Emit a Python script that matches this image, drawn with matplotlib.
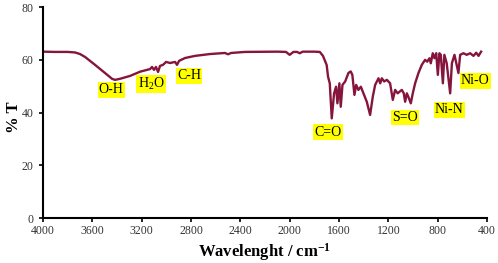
import matplotlib
matplotlib.use("Agg")
import matplotlib.pyplot as plt

plt.rcParams['font.family'] = ['Liberation Serif', 'DejaVu Serif']
plt.rcParams['mathtext.fontset'] = 'custom'
plt.rcParams['mathtext.rm'] = 'Liberation Serif'
plt.rcParams['mathtext.bf'] = 'Liberation Serif:bold'
plt.rcParams['mathtext.default'] = 'regular'

wavenumber = [4000, 3900, 3800, 3740, 3700, 3659, 3578, 3497, 3440, 3416, 3376, 3294, 3213,
              3132, 3116, 3100, 3084, 3067, 3051, 3027, 3002, 2970, 2929, 2913, 2897, 2848,
              2767, 2646, 2524, 2500, 2475, 2362, 2100, 2030, 2000, 1970, 1940, 1918, 1895,
              1800, 1756, 1730, 1700, 1689, 1675, 1659, 1640, 1624, 1613, 1597, 1586, 1572,
              1550, 1524, 1505, 1492, 1475, 1461, 1443, 1423, 1402, 1375, 1348, 1326, 1307,
              1280, 1266, 1253, 1234, 1212, 1186, 1164, 1145, 1125, 1091, 1075, 1064, 1050,
              1034, 1018, 1002, 983, 956, 929, 902, 885, 867, 856, 840, 826, 812, 799, 786,
              775, 758, 746, 727, 699, 685, 664, 632, 618, 591, 565, 537, 510, 488, 469, 448]
transmittance = [63.1, 63.0, 63.0, 62.8, 62.2, 61.1, 58.1, 55.0, 52.8, 52.4, 52.8, 53.9, 55.5,
                 56.5, 57.3, 56.2, 57.3, 55.4, 57.7, 58.1, 59.2, 58.8, 59.2, 58.1, 59.6, 60.7,
                 61.5, 62.2, 62.6, 62.1, 62.6, 63.0, 63.1, 63.0, 61.9, 63.0, 63.0, 62.5, 63.1,
                 63.1, 63.0, 61.5, 58.0, 53.6, 51.1, 37.8, 47.3, 49.8, 43.5, 51.1, 42.2, 50.5,
                 51.8, 55.0, 55.6, 54.3, 46.7, 50.5, 48.6, 49.8, 47.3, 44.1, 39.1, 46.1, 50.5,
                 53.0, 51.1, 53.0, 51.8, 52.4, 51.1, 44.8, 48.6, 47.3, 48.6, 47.3, 44.1, 47.3,
                 45.5, 43.5, 47.3, 51.1, 55.0, 58.1, 60.0, 59.3, 60.6, 58.7, 62.5, 60.6, 62.5,
                 54.3, 62.5, 61.9, 51.1, 61.9, 58.7, 47.3, 58.7, 61.9, 55.0, 61.9, 62.5, 61.9,
                 62.5, 61.5, 62.7, 61.5, 63.1]

labels = ['O-H', 'H$_2$O', 'C-H', 'C=O', 'S=O', 'Ni-N', 'Ni-O']
label_x = [3448, 3124, 2816, 1689, 1064, 707, 496]
label_y = [48.6, 50.9, 53.9, 32.6, 38.0, 41.0, 52.0]

xticks = [4000, 3600, 3200, 2800, 2400, 2000, 1600, 1200, 800, 400]
yticks = [0, 20, 40, 60, 80]

fig = plt.figure(figsize=(4.98, 2.63), dpi=100)
ax = fig.add_axes([0.0863, 0.171, 0.8917, 0.802])
ax.plot(wavenumber, transmittance, color='#86153d', lw=1.7)

for t, x, y in zip(labels, label_x, label_y):
    ax.text(x, y, t, ha='center', va='center', fontsize=10, color='black',
            bbox=dict(boxstyle='square,pad=0.08', fc='#ffff00', ec='none'))

ax.set_xlim(4000, 400)
ax.set_ylim(0, 80)
ax.set_xticks(xticks)
ax.set_yticks(yticks)
ax.tick_params(direction='out', length=3, width=1.2, labelsize=8.5, colors='black',
               labelcolor='#333333', pad=2)
ax.tick_params(axis='y', pad=4)
for s in ['top', 'right']:
    ax.spines[s].set_visible(False)
for s in ['left', 'bottom']:
    ax.spines[s].set_linewidth(1.5)
ax.set_xlabel(r'Wavelenght / cm$^{\mathbf{-1}}$', fontsize=12, fontweight='bold', labelpad=3)
ax.set_ylabel('% T', fontsize=12, fontweight='bold', va='center')
ax.yaxis.set_label_coords(-0.066, 0.48)

fig.savefig('out.png', dpi=100)
